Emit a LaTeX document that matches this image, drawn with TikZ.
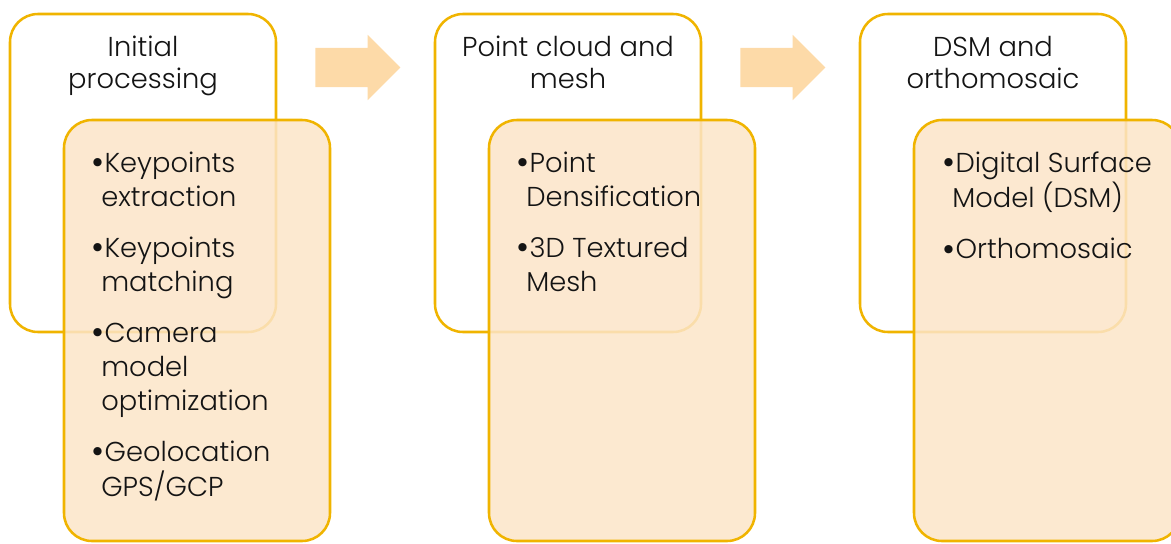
\documentclass[tikz,border=0pt]{standalone}
\usepackage{fontspec}
\setmainfont{Poppins}[UprightFont=* Light]
\usetikzlibrary{shapes.arrows,positioning}
\definecolor{gold}{RGB}{240,180,0}
\definecolor{peach}{RGB}{252,229,200}
\definecolor{arrowpeach}{RGB}{253,218,168}
\definecolor{ink}{RGB}{20,20,20}

\tikzset{
  titlebox/.style={draw=gold, line width=1.9pt, rounded corners=21pt, fill=white},
  listbox/.style={draw=gold, line width=1.9pt, rounded corners=21pt,
    fill=peach, fill opacity=0.85, draw opacity=1},
  flowarrow/.style={single arrow, fill=arrowpeach, draw=none, inner xsep=0pt,
    inner ysep=14.6pt, minimum height=63.75pt, single arrow head extend=9.75pt,
    anchor=tail},
  titletext/.style={inner sep=0pt, anchor=north, text=ink,
    font=\fontsize{20.5}{24}\selectfont},
  listtext/.style={inner sep=0pt, anchor=north west, text=ink,
    font=\fontsize{20.5}{25.5}\selectfont}
}
\newcommand{\bul}{\kern-7.2pt\raisebox{-1.8pt}{\scalebox{1.3}{\textbullet}}}

\begin{document}
\begin{tikzpicture}[x=0.75pt,y=-0.75pt]
  \useasboundingbox (0,0) rectangle (1171,543);

  % stage frames
  \foreach \dx in {0,425,850} {
    \draw[titlebox] (10+\dx,14) rectangle (276+\dx,332);
  }
  \foreach \dx in {0,425,850} {
    \draw[listbox] (64+\dx,120) rectangle (330+\dx,541);
  }

  % block arrows between stages
  \node[flowarrow] (arrow1) at (315,67.5) {};
  \node[flowarrow] (arrow2) at (740,67.5) {};

  % titles
  \node[titletext] (title1) at (143,34) {\begin{tabular}{@{}c@{}}Initial\\processing\end{tabular}};
  \node[titletext] (title2) at (568,34) {\begin{tabular}{@{}c@{}}Point cloud and\\mesh\end{tabular}};
  \node[titletext] (title3) at (993,34) {\begin{tabular}{@{}c@{}}DSM and\\orthomosaic\end{tabular}};

  % bullet lists
  \node[listtext] (list1) at (101,148) {\begin{tabular}{@{}l@{}}
    \bul Keypoints\\ extraction\\[12.75pt]
    \bul Keypoints\\ matching\\[12.75pt]
    \bul Camera\\ model\\ optimization\\[12.75pt]
    \bul Geolocation\\ GPS/GCP
  \end{tabular}};
  \node[listtext] (list2) at (526,148) {\begin{tabular}{@{}l@{}}
    \bul Point\\ Densification\\[12.75pt]
    \bul 3D Textured\\ Mesh
  \end{tabular}};
  \node[listtext] (list3) at (952,148) {\begin{tabular}{@{}l@{}}
    \bul Digital Surface\\ Model (DSM)\\[12.75pt]
    \bul Orthomosaic
  \end{tabular}};
\end{tikzpicture}
\end{document}
